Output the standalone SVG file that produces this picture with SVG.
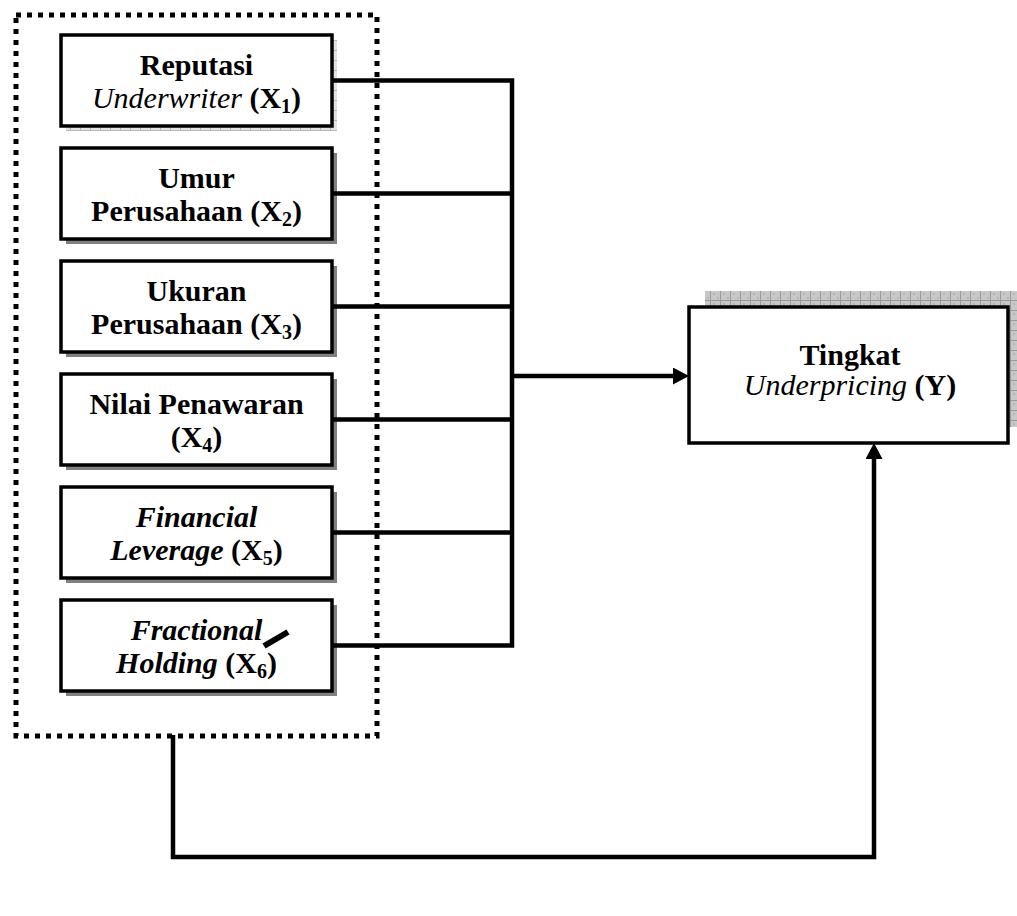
<svg xmlns="http://www.w3.org/2000/svg" width="1017" height="916" viewBox="0 0 1017 916">
<style>
.box{fill:#fff;stroke:#000;stroke-width:3.5}
.sh{fill:#808080}
.t{font-family:"Liberation Serif","Times New Roman",serif;font-size:30px;font-weight:bold;text-anchor:middle;fill:#000}
.i{font-style:italic}
.n{font-weight:normal}
.sub{font-size:20px}
.c{fill:none;stroke:#000;stroke-width:4.5;stroke-linejoin:miter}
.dot{fill:none;stroke:#000;stroke-width:5;stroke-dasharray:5 6}
</style>
<defs>
<pattern id="grid" width="10" height="10" patternUnits="userSpaceOnUse">
<rect width="10" height="10" fill="#c8c8c8"/>
<path d="M0,0.5H10M0.5,0V10" stroke="#9a9a9a" stroke-width="1"/>
<rect x="3" y="3" width="2" height="2" fill="#b4b4b4"/><rect x="7" y="7" width="2" height="2" fill="#b4b4b4"/>
</pattern>
<pattern id="grid2" width="10" height="10" patternUnits="userSpaceOnUse">
<rect width="10" height="10" fill="#e2e2e2"/>
<path d="M0,0.5H10M0.5,0V10" stroke="#b8b8b8" stroke-width="1"/>
</pattern>
<marker id="arr" viewBox="0 0 16 17" refX="6" refY="8.5" markerWidth="16" markerHeight="17" markerUnits="userSpaceOnUse" orient="auto">
<path d="M0,0L16,8.5L0,17Z" fill="#000"/>
</marker>
</defs>
<rect width="1017" height="916" fill="#fff"/>

<g id="group-border">
<rect class="dot" x="16" y="15" width="361" height="721"/>
</g>

<g id="node-x1">
<rect x="66" y="40" width="271" height="91" fill="url(#grid2)"/>
<rect class="box" x="61" y="35" width="271" height="91"/>
<text class="t" x="196.5" y="74.5">Reputasi</text>
<text class="t" x="196.5" y="107.5"><tspan class="i n">Underwriter</tspan> (X<tspan class="sub" dy="5">1</tspan><tspan dy="-5">)</tspan></text>
</g>

<g id="node-x2">
<rect class="sh" x="66" y="153" width="271" height="91"/>
<rect class="box" x="61" y="148" width="271" height="91"/>
<text class="t" x="196.5" y="187.5">Umur</text>
<text class="t" x="196.5" y="220.5">Perusahaan (X<tspan class="sub" dy="5">2</tspan><tspan dy="-5">)</tspan></text>
</g>

<g id="node-x3">
<rect class="sh" x="66" y="266" width="271" height="91"/>
<rect class="box" x="61" y="261" width="271" height="91"/>
<text class="t" x="196.5" y="300.5">Ukuran</text>
<text class="t" x="196.5" y="333.5">Perusahaan (X<tspan class="sub" dy="5">3</tspan><tspan dy="-5">)</tspan></text>
</g>

<g id="node-x4">
<rect class="sh" x="66" y="379" width="271" height="91"/>
<rect class="box" x="61" y="374" width="271" height="91"/>
<text class="t" x="196.5" y="413.5">Nilai Penawaran</text>
<text class="t" x="196.5" y="446.5">(X<tspan class="sub" dy="5">4</tspan><tspan dy="-5">)</tspan></text>
</g>

<g id="node-x5">
<rect class="sh" x="66" y="492" width="271" height="91"/>
<rect class="box" x="61" y="487" width="271" height="91"/>
<text class="t i" x="196.5" y="526.5">Financial</text>
<text class="t" x="196.5" y="559.5"><tspan class="i">Leverage</tspan> (X<tspan class="sub" dy="5">5</tspan><tspan dy="-5">)</tspan></text>
</g>

<g id="node-x6">
<rect class="sh" x="66" y="605" width="271" height="91"/>
<rect class="box" x="61" y="600" width="271" height="91"/>
<text class="t i" x="196.5" y="639.5">Fractional</text>
<text class="t" x="196.5" y="672.5"><tspan class="i">Holding</tspan> (X<tspan class="sub" dy="5">6</tspan><tspan dy="-5">)</tspan></text>
<line x1="264" y1="646" x2="288" y2="632" stroke="#000" stroke-width="6"/>
</g>

<g id="node-y">
<rect x="705" y="291" width="319" height="136" fill="url(#grid)"/>
<rect class="box" x="689" y="307" width="319" height="136"/>
<text class="t" x="850" y="365">Tingkat</text>
<text class="t" x="850" y="395"><tspan class="i n">Underpricing</tspan> (Y)</text>
</g>

<g id="connectors">
<path class="c" d="M332,80.5H512V645.5H332"/>
<path class="c" d="M332,193.5H512M332,306.5H512M332,419.5H512M332,532.5H512"/>
<path class="c" d="M512,376H679" marker-end="url(#arr)"/>
<path class="c" d="M173,735V857H874V453" marker-end="url(#arr)"/>
</g>
</svg>
